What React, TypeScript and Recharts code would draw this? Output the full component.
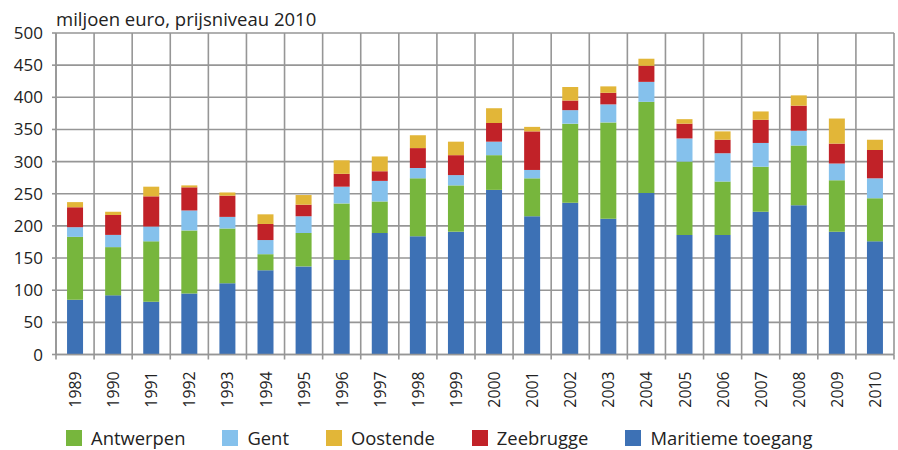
import React from 'react';
import { BarChart, Bar, XAxis, YAxis, CartesianGrid, Legend } from 'recharts';

const years = ['1989', '1990', '1991', '1992', '1993', '1994', '1995', '1996', '1997', '1998', '1999', '2000', '2001', '2002', '2003', '2004', '2005', '2006', '2007', '2008', '2009', '2010'];
const maritiemeToegang = [85, 92, 82, 95, 111, 131, 137, 147, 189, 184, 191, 256, 215, 236, 211, 251, 186, 186, 222, 232, 191, 176];
const antwerpen = [98, 75, 94, 98, 85, 25, 52, 88, 49, 90, 72, 54, 59, 123, 150, 142, 114, 83, 70, 93, 80, 67];
const gent = [15, 19, 23, 31, 18, 22, 26, 26, 32, 16, 16, 21, 13, 21, 28, 31, 36, 44, 37, 23, 26, 31];
const zeebrugge = [31, 31, 47, 36, 33, 25, 18, 20, 15, 31, 31, 29, 60, 15, 18, 25, 23, 21, 36, 39, 31, 44];
const oostende = [8, 5, 15, 3, 5, 15, 15, 21, 23, 20, 21, 23, 7, 21, 10, 11, 7, 13, 13, 16, 39, 16];
const yTicks = [0, 50, 100, 150, 200, 250, 300, 350, 400, 450, 500];

const FONT = '"Open Sans", "DejaVu Sans", sans-serif';
const GRID = '#969696';

const COLORS = {
  maritieme: '#3D71B5',
  antwerpen: '#77B63D',
  gent: '#85C1EC',
  zeebrugge: '#C12228',
  oostende: '#E2B638',
};

const legendItems = [
  { name: 'Antwerpen', color: COLORS.antwerpen },
  { name: 'Gent', color: COLORS.gent },
  { name: 'Oostende', color: COLORS.oostende },
  { name: 'Zeebrugge', color: COLORS.zeebrugge },
  { name: 'Maritieme toegang', color: COLORS.maritieme },
];

const data = years.map((year, i) => ({
  year,
  maritieme: maritiemeToegang[i],
  antwerpen: antwerpen[i],
  gent: gent[i],
  zeebrugge: zeebrugge[i],
  oostende: oostende[i],
}));

const YearTick = (props: any) => {
  const { x, y, payload, index } = props;
  const half = payload && typeof payload.offset === 'number' && payload.offset > 0 ? payload.offset : 19.05;
  const isLast = index === years.length - 1;
  return (
    <g>
      <line x1={x - half} x2={x - half} y1={y} y2={y + 5} stroke={GRID} strokeWidth={1.6} />
      {isLast && <line x1={x + half} x2={x + half} y1={y} y2={y + 5} stroke={GRID} strokeWidth={1.6} />}
      <text
        x={x}
        y={y + 17}
        transform={`rotate(-90, ${x}, ${y + 17})`}
        textAnchor="end"
        dominantBaseline="central"
        fontFamily={FONT}
        fontSize={15.8}
        fill="#222"
      >
        {payload.value}
      </text>
    </g>
  );
};

const LegendContent = () => (
  <div style={{ display: 'flex', alignItems: 'center', paddingLeft: 66, paddingTop: 10, fontFamily: FONT, fontSize: 18.4, color: '#222' }}>
    {legendItems.map((it) => (
      <div key={it.name} style={{ display: 'flex', alignItems: 'center', marginRight: 37 }}>
        <span style={{ display: 'inline-block', width: 16, height: 16, background: it.color, marginRight: 9 }} />
        <span style={{ lineHeight: '20px' }}>{it.name}</span>
      </div>
    ))}
  </div>
);

const TitleLabel = (props: any) => {
  const vb = props.viewBox || { x: 0, y: 33, width: 56 };
  return (
    <text x={vb.x + vb.width} y={vb.y - 7} fontFamily={FONT} fontSize={18.5} fill="#222" textAnchor="start">
      miljoen euro, prijsniveau 2010
    </text>
  );
};

export default function App() {
  return (
    <div style={{ position: 'absolute', left: 0, top: 0, width: 898, height: 450, background: '#fff' }}>
      <BarChart
        width={898}
        height={450}
        data={data}
        margin={{ top: 33, right: 4, bottom: 0, left: 0 }}
        barCategoryGap="29%"
      >
        <CartesianGrid
          stroke={GRID}
          strokeWidth={1.6}
          horizontal={true}
          vertical={true}
          verticalCoordinatesGenerator={({ offset }: any) => {
            const out: number[] = [];
            for (let i = 0; i <= years.length; i++) out.push(offset.left + (i * offset.width) / years.length);
            return out;
          }}
        />
        <XAxis
          dataKey="year"
          interval={0}
          height={63.5}
          tickLine={false}
          tickSize={0}
          tickMargin={0}
          axisLine={{ stroke: GRID, strokeWidth: 1.6 }}
          tick={<YearTick />}
        />
        <YAxis
          width={56}
          domain={[0, 500]}
          ticks={yTicks}
          interval={0}
          tickSize={4}
          tickMargin={9}
          tickLine={{ stroke: GRID, strokeWidth: 1.6 }}
          axisLine={{ stroke: GRID, strokeWidth: 1.6 }}
          tick={{ fontFamily: FONT, fontSize: 17, fill: '#222' }}
          label={<TitleLabel />}
        />
        <Legend verticalAlign="bottom" height={32} content={<LegendContent />} />
        <Bar dataKey="maritieme" name="Maritieme toegang" stackId="a" fill={COLORS.maritieme} isAnimationActive={false} />
        <Bar dataKey="antwerpen" name="Antwerpen" stackId="a" fill={COLORS.antwerpen} isAnimationActive={false} />
        <Bar dataKey="gent" name="Gent" stackId="a" fill={COLORS.gent} isAnimationActive={false} />
        <Bar dataKey="zeebrugge" name="Zeebrugge" stackId="a" fill={COLORS.zeebrugge} isAnimationActive={false} />
        <Bar dataKey="oostende" name="Oostende" stackId="a" fill={COLORS.oostende} isAnimationActive={false} />
      </BarChart>
    </div>
  );
}
